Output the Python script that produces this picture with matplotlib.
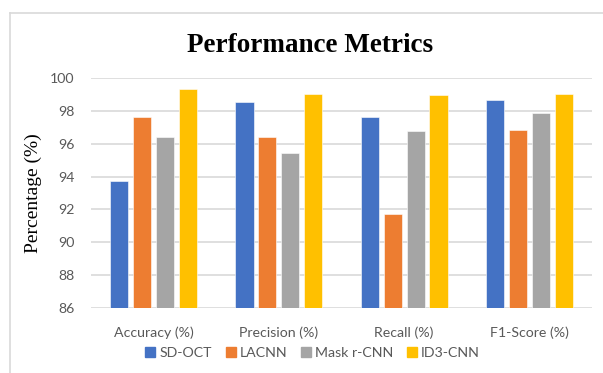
import matplotlib
matplotlib.use("Agg")
import matplotlib.pyplot as plt
import numpy as np
from matplotlib.lines import Line2D

categories = ["Accuracy (%)", "Precision (%)", "Recall (%)", "F1-Score (%)"]
models = ["SD-OCT", "LACNN", "Mask r-CNN", "ID3-CNN"]
sd_oct = [93.75, 98.55, 97.6, 98.65]
lacnn = [97.65, 96.4, 91.75, 96.85]
mask_rcnn = [96.4, 95.45, 96.75, 97.85]
id3_cnn = [99.35, 99.05, 98.95, 99.05]
yticks = [86, 88, 90, 92, 94, 96, 98, 100]

series = [sd_oct, lacnn, mask_rcnn, id3_cnn]
colors = ["#4472C4", "#ED7D31", "#A5A5A5", "#FFC000"]

W, H, DPI = 603, 373, 100
fig = plt.figure(figsize=(W / DPI, H / DPI), dpi=DPI)
fig.patch.set_facecolor("white")

# plot area in pixel coordinates
left, right, top, bottom = 91, 592, 78, 308
ax = fig.add_axes([left / W, 1 - bottom / H, (right - left) / W, (bottom - top) / H])

x = np.arange(len(categories))
step = 0.183
width = 0.145
for i, (vals, c, name) in enumerate(zip(series, colors, models)):
    ax.bar(x + (i - 1.5) * step, vals, width=width, color=c, label=name,
           edgecolor="white", linewidth=0.4, zorder=3)

ax.set_xlim(-0.5, len(categories) - 0.5)
ax.set_ylim(86, 100)
ax.set_yticks(yticks)
ax.set_xticks(x)
ax.set_xticklabels(categories)
ax.grid(axis="y", color="#D9D9D9", linewidth=1.2, zorder=0)
for s in ax.spines.values():
    s.set_visible(False)
ax.tick_params(axis="both", length=0, colors="#595959", labelsize=10.2)
ax.tick_params(axis="x", pad=13)
ax.tick_params(axis="y", pad=12)
for lbl in ax.get_xticklabels() + ax.get_yticklabels():
    lbl.set_fontfamily("Lato")

ax.set_ylabel("Percentage (%)", fontfamily="Liberation Serif", fontsize=14,
              color="black", labelpad=6)

fig.text(310 / W, 1 - 46 / H, "Performance Metrics",
         ha="center", va="center", fontfamily="Liberation Serif",
         fontweight="bold", fontsize=19.5)

handles = [Line2D([], [], marker="s", linestyle="none", markersize=6.5,
                  markerfacecolor=c, markeredgecolor=c) for c in colors]
fig.legend(handles, models, loc="center", bbox_to_anchor=(313 / W, 1 - 353 / H),
           ncol=4, frameon=False, handlelength=0.6, handletextpad=0.35,
           columnspacing=1.0,
           prop={"family": "Lato", "size": 10.2}, labelcolor="#595959")

# chart border
fig.add_artist(Line2D([10 / W, 1], [1 - 13 / H, 1 - 13 / H], transform=fig.transFigure,
                      color="#D9D9D9", linewidth=1.2))
fig.add_artist(Line2D([10 / W, 10 / W], [0, 1 - 13 / H], transform=fig.transFigure,
                      color="#D9D9D9", linewidth=1.2))

fig.savefig("out.png", dpi=DPI)
